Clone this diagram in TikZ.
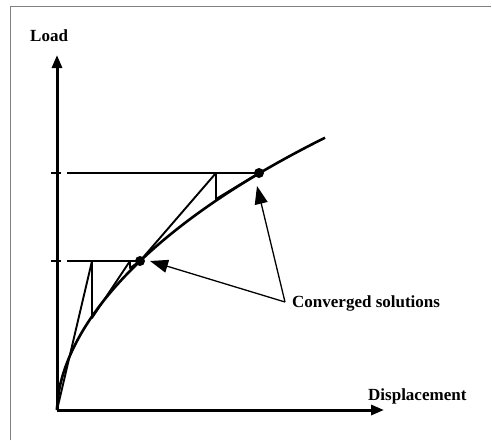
\documentclass[tikz,border=0pt]{standalone}
\usepackage{fontspec}
\setmainfont{Liberation Serif}
\usetikzlibrary{arrows.meta}
\begin{document}
\begin{tikzpicture}[x=1pt,y=-1pt,
  axis/.style={line width=3pt,-{Triangle[length=13pt,width=10pt]}},
  curveline/.style={line width=2.6pt},
  iterline/.style={line width=1.9pt},
  levelline/.style={line width=2pt},
  pointer/.style={line width=1.3pt,-{Triangle[length=18pt,width=13pt]}},
  lbl/.style={font=\fontsize{17}{20}\selectfont\bfseries,inner sep=0pt},
  dot/.style={circle,fill=black,inner sep=0pt,minimum size=10pt}]
\useasboundingbox (0,0) rectangle (492,440);
% frame
\draw[gray,line width=1pt] (10,440) -- (10,6) -- (491,6);
% coordinates
\coordinate (O) at (57,410);
\coordinate (Ytip) at (57,55);
\coordinate (Xtip) at (384,410);
% axes
\draw[axis] (O) -- (Ytip);
\draw[axis] (O) -- (Xtip);
% labels
\node[lbl,anchor=west] (load) at (30,36) {Load};
\node[lbl,anchor=west] (disp) at (368,396) {Displacement};
\node[lbl,anchor=west] (conv) at (292,303) {Converged solutions};
% curve
\draw[curveline,line join=round] (O) -- plot[domain=0.05:268,samples=150,variable=\d] ({57+\d},{410-13.34*(\d^0.55)*(1-0.000206*\d)});
% converged points
\node[dot] (P1) at (140,261) {};
\node[dot] (P2) at (259,173) {};
% load levels
\draw[levelline] (51,261) -- (61,261);
\draw[levelline] (67,261) -- (P1.center);
\draw[levelline] (51,173) -- (61,173);
\draw[levelline] (67,173) -- (P2.center);
% iterations, first increment
\coordinate (A1) at (92,261);
\coordinate (A2) at (92,318);
\coordinate (A3) at (130,261);
\coordinate (A4) at (130,268);
\draw[iterline,line join=round] (O) -- (A1) -- (A2) -- (A3) -- (A4) -- (P1.center);
% iterations, second increment
\coordinate (B1) at (216,173);
\coordinate (B2) at (216,199);
\draw[iterline,line join=round] (P1.center) -- (B1) -- (B2) -- (P2.center);
% pointers
\coordinate (C) at (285,302);
\draw[pointer] (C) -- (257,186);
\draw[pointer] (C) -- (150,261);
\end{tikzpicture}
\end{document}
